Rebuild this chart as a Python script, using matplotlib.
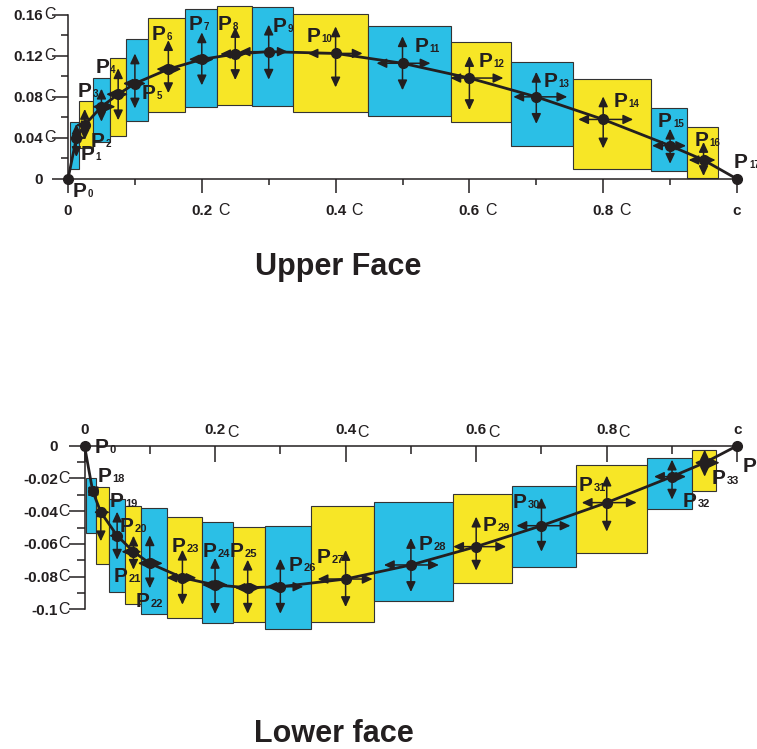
import matplotlib
matplotlib.use('Agg')
import matplotlib.pyplot as plt
import matplotlib.transforms as mtransforms
import numpy as np

plt.rcParams['font.family'] = ['Liberation Sans', 'DejaVu Sans']

W, H, DPI = 757, 749, 100
PT = 72.0 / DPI

CYAN = '#2bbfe6'
YELLOW = '#f7e626'
INK = '#231f20'

# ---------------- Upper face data ----------------
upper_names = ['0', '1', '2', '3', '4', '5', '6', '7', '8', '9', '10', '11',
               '12', '13', '14', '15', '16', '17']
upper_x = [0, 0.0125, 0.025, 0.05, 0.075, 0.1, 0.15, 0.2, 0.25, 0.3, 0.4,
           0.5, 0.6, 0.7, 0.8, 0.9, 0.95, 1.0]
upper_y = [0, 0.040, 0.0526, 0.0704, 0.0825, 0.093, 0.107, 0.1165, 0.1217,
           0.124, 0.1223, 0.1127, 0.0983, 0.080, 0.058, 0.0324, 0.0185, 0]
upper_box_left = [0.003, 0.0164, 0.0378, 0.0628, 0.0867, 0.120, 0.1749,
                  0.2223, 0.2746, 0.3368, 0.4489, 0.572, 0.6625, 0.7553,
                  0.871, 0.9248]
upper_box_right = [0.0164, 0.0378, 0.0628, 0.0867, 0.120, 0.1749, 0.2223,
                   0.2746, 0.3368, 0.4489, 0.572, 0.6625, 0.7553, 0.871,
                   0.9248, 0.972]
upper_box_low = [0.0094, 0.0305, 0.0363, 0.0419, 0.0565, 0.0649, 0.0698,
                 0.0721, 0.0714, 0.0655, 0.0613, 0.0552, 0.0324, 0.0097,
                 0.0081, 0.0007]
upper_box_high = [0.0552, 0.0760, 0.0986, 0.1175, 0.136, 0.1565, 0.1652,
                  0.1685, 0.1672, 0.1604, 0.1493, 0.1337, 0.1142, 0.0974,
                  0.0688, 0.0509]
upper_xticks = [0, 0.2, 0.4, 0.6, 0.8, 1.0]
upper_xticklabels = ['0', '0.2', '0.4', '0.6', '0.8', 'c']
upper_yticks = [0, 0.04, 0.08, 0.12, 0.16]
upper_yticklabels = ['0', '0.04', '0.08', '0.12', '0.16']

# ---------------- Lower face data ----------------
lower_names = ['0', '18', '19', '20', '21', '22', '23', '24', '25', '26',
               '27', '28', '29', '30', '31', '32', '33', '34']
lower_x = [0, 0.0125, 0.025, 0.05, 0.075, 0.1, 0.15, 0.2, 0.25, 0.3, 0.4,
           0.5, 0.6, 0.7, 0.8, 0.9, 0.95, 1.0]
lower_y = [0, -0.0277, -0.0407, -0.055, -0.0648, -0.0719, -0.0807, -0.0851,
           -0.0868, -0.0862, -0.0815, -0.0729, -0.0617, -0.0489, -0.0348,
           -0.0189, -0.0104, 0]
lower_box_left = [0.0023, 0.017, 0.0380, 0.0620, 0.0860, 0.1259, 0.1804,
                  0.2279, 0.2765, 0.3470, 0.4435, 0.5650, 0.655, 0.7525,
                  0.8613, 0.9311]
lower_box_right = [0.017, 0.0380, 0.0620, 0.0860, 0.1259, 0.1804, 0.2279,
                   0.2765, 0.3470, 0.4435, 0.5650, 0.655, 0.7525, 0.8613,
                   0.9311, 0.9669]
lower_box_high = [-0.0199, -0.0255, -0.0327, -0.0366, -0.0382, -0.0438,
                  -0.0465, -0.0499, -0.0491, -0.0367, -0.0346, -0.0297,
                  -0.0249, -0.0118, -0.0077, -0.0026]
lower_box_low = [-0.0535, -0.0723, -0.0897, -0.0967, -0.1029, -0.1055,
                 -0.1082, -0.1080, -0.1122, -0.1080, -0.0948, -0.0841,
                 -0.0743, -0.0654, -0.0388, -0.0276]
lower_xticks = [0, 0.2, 0.4, 0.6, 0.8, 1.0]
lower_xticklabels = ['0', '0.2', '0.4', '0.6', '0.8', 'c']
lower_yticks = [0, -0.02, -0.04, -0.06, -0.08, -0.1]
lower_yticklabels = ['0', '-0.02', '-0.04', '-0.06', '-0.08', '-0.1']

# ---------------- styling (pixel sizes) ----------------
# arrow lengths (up, down, left, right) in pixels for interior points
upper_arrows = [(14, 19, 6, 9), (16, 15, 9, 7), (18, 15, 9, 14), (26, 26, 12, 10),
                (30, 25, 12, 11), (29, 24, 12, 13), (27, 26, 13, 12), (27, 26, 15, 11),
                (27, 28, 29, 19), (27, 34, 28, 27), (27, 27, 26, 28), (22, 32, 19, 34),
                (25, 27, 23, 31), (23, 29, 25, 30), (17, 18, 18, 16), (18, 16, 15, 12)]
lower_arrows = [(6, 7, 5, 7), (6, 29, 7, 9), (24, 24, 8, 6), (16, 18, 12, 8),
                (28, 25, 12, 13), (28, 27, 16, 14), (27, 29, 13, 13), (28, 26, 13, 13),
                (28, 27, 14, 23), (29, 28, 28, 27), (27, 27, 27, 28), (30, 24, 23, 30),
                (28, 26, 25, 29), (27, 29, 25, 30), (17, 23, 18, 14), (13, 14, 10, 15)]
# label offsets (dx, dy) in pixels, y downward
upper_lab = [(5, 18), (4, 22), (6, 22), (-24, -10), (-23, -21), (7, 15), (-17, -29),
             (-13, -29), (-18, -24), (4, -20), (-29, -11), (12, -11), (9, -11),
             (7, -10), (10, -12), (-12, -19), (-9, -14), (-3, -11)]
lower_lab = [(10, 7), (5, -9), (9, -5), (2, -4), (-20, 30), (-14, 44), (-11, -26),
             (-12, -28), (-18, -31), (8, -16), (-29, -16), (8, -15), (6, -16),
             (-29, -18), (-28, -12), (11, 30), (7, 21), (5, 26)]

fig = plt.figure(figsize=(W / DPI, H / DPI), dpi=DPI)


def px_axes(left, right, top, bottom):
    return fig.add_axes([left / W, 1 - bottom / H, (right - left) / W, (bottom - top) / H])


def off_trans(ax, dx, dy):
    return ax.transData + mtransforms.ScaledTranslation(dx / DPI, -dy / DPI, fig.dpi_scale_trans)


def draw_face(ax, xs, ys, names, bl, br, blo, bhi, arrows, labs, subsize):
    colors = [CYAN if i % 2 == 0 else YELLOW for i in range(len(bl))]
    bl_a, br_a = np.array(bl), np.array(br)
    blo_a, bhi_a = np.array(blo), np.array(bhi)
    ax.bar(bl_a, bhi_a - blo_a, width=br_a - bl_a, bottom=blo_a, align='edge',
           color=colors, edgecolor='#333333', linewidth=0.8, zorder=1, clip_on=False)
    ax.plot(xs, ys, color=INK, lw=2.0, zorder=3, clip_on=False)
    ap = dict(arrowstyle='-|>,head_length=0.6,head_width=0.28', color=INK, lw=1.1,
              shrinkA=0, shrinkB=0, mutation_scale=10)
    for i, (u, d, l, r) in enumerate(arrows):
        x, y = xs[i + 1], ys[i + 1]
        for dx, dy in [(0, -u), (0, d), (-l, 0), (r, 0)]:
            ax.annotate('', xy=(x, y), xycoords=off_trans(ax, dx, dy), xytext=(x, y),
                        textcoords='data', arrowprops=ap, zorder=4, annotation_clip=False)
    ax.plot(xs, ys, 'o', color=INK, ms=7, zorder=5, clip_on=False)
    for i, name in enumerate(names):
        dx, dy = labs[i]
        ax.annotate('P', xy=(xs[i], ys[i]), xytext=(dx * PT, -dy * PT),
                    textcoords='offset points', ha='left', va='baseline', size=15,
                    weight='bold', color=INK, zorder=6, annotation_clip=False)
        ax.annotate(name, xy=(xs[i], ys[i]), xytext=((dx + 15) * PT, -dy * PT),
                    textcoords='offset points', ha='left', va='baseline', size=subsize,
                    weight='bold', color=INK, zorder=6, annotation_clip=False)


# ---------------- Upper axes ----------------
ax1 = px_axes(68, 737, 14.7, 179)
ax1.set_xlim(0, 1)
ax1.set_ylim(0, 0.16)
ax1.patch.set_visible(False)
for s in ['top', 'right']:
    ax1.spines[s].set_visible(False)
for s in ['left', 'bottom']:
    ax1.spines[s].set_linewidth(1.1)
    ax1.spines[s].set_color(INK)
ax1.set_xticks(upper_xticks)
ax1.set_xticklabels(upper_xticklabels, weight='bold', size=11, color=INK)
ax1.set_xticks(np.arange(0.1, 1.0, 0.2), minor=True)
ax1.set_yticks(upper_yticks)
ax1.set_yticklabels(upper_yticklabels, weight='bold', size=11, color=INK)
ax1.set_yticks([0.02, 0.06, 0.10, 0.14], minor=True)
ax1.tick_params(axis='x', which='major', direction='out', length=10, width=1.1, pad=8, color=INK)
ax1.tick_params(axis='x', which='minor', direction='out', length=4.3, width=1.1, color=INK)
ax1.tick_params(axis='y', which='major', direction='out', length=11.5, width=1.1, pad=6.5, color=INK)
ax1.tick_params(axis='y', which='minor', direction='out', length=5, width=1.1, color=INK)
for xt in upper_xticks[1:-1]:
    ax1.annotate('C', xy=(xt, 0), xytext=(16 * PT, -36 * PT), textcoords='offset points',
                 ha='left', va='baseline', size=11.5, color=INK, annotation_clip=False)
for yt in upper_yticks[1:]:
    ax1.annotate('C', xy=(0, yt), xytext=(-24 * PT, 0), textcoords='offset points',
                 ha='left', va='center', size=11.5, color=INK, annotation_clip=False)
draw_face(ax1, upper_x, upper_y, upper_names, upper_box_left, upper_box_right,
          upper_box_low, upper_box_high, upper_arrows, upper_lab, 7)

# ---------------- Lower axes ----------------
ax2 = px_axes(84.5, 737.3, 445.7, 609.3)
ax2.set_xlim(0, 1)
ax2.set_ylim(-0.1, 0)
ax2.patch.set_visible(False)
for s in ['bottom', 'right']:
    ax2.spines[s].set_visible(False)
for s in ['left', 'top']:
    ax2.spines[s].set_linewidth(1.1)
    ax2.spines[s].set_color(INK)
ax2.xaxis.tick_top()
ax2.set_xticks(lower_xticks)
ax2.set_xticklabels(lower_xticklabels, weight='bold', size=11, color=INK)
ax2.set_xticks(np.arange(0.1, 1.0, 0.2), minor=True)
ax2.set_yticks(lower_yticks)
ax2.set_yticklabels(lower_yticklabels, weight='bold', size=11, color=INK)
ax2.set_yticks([-0.01, -0.03, -0.05, -0.07, -0.09], minor=True)
ax2.tick_params(axis='x', which='major', direction='in', length=11.5, width=1.1, pad=6,
                color=INK, top=True, bottom=False, labeltop=True, labelbottom=False)
ax2.tick_params(axis='x', which='minor', direction='in', length=5.5, width=1.1,
                color=INK, top=True, bottom=False)
ax2.tick_params(axis='y', which='major', direction='out', length=11.5, width=1.1, pad=7.5, color=INK)
ax2.tick_params(axis='y', which='minor', direction='out', length=5.8, width=1.1, color=INK)
for xt in lower_xticks[1:-1]:
    ax2.annotate('C', xy=(xt, 0), xytext=(12 * PT, 9 * PT), textcoords='offset points',
                 ha='left', va='baseline', size=11.5, color=INK, annotation_clip=False)
for yt in lower_yticks[1:]:
    ax2.annotate('C', xy=(0, yt), xytext=(-26.5 * PT, 0), textcoords='offset points',
                 ha='left', va='center', size=11.5, color=INK, annotation_clip=False)
draw_face(ax2, lower_x, lower_y, lower_names, lower_box_left, lower_box_right,
          lower_box_low, lower_box_high, lower_arrows, lower_lab, 8)

fig.text(338 / W, 1 - 275 / H, 'Upper Face', ha='center', va='baseline', size=22,
         weight='bold', color=INK)
fig.text(334 / W, 1 - 742 / H, 'Lower face', ha='center', va='baseline', size=22,
         weight='bold', color=INK)

fig.savefig('out.png', dpi=DPI)
